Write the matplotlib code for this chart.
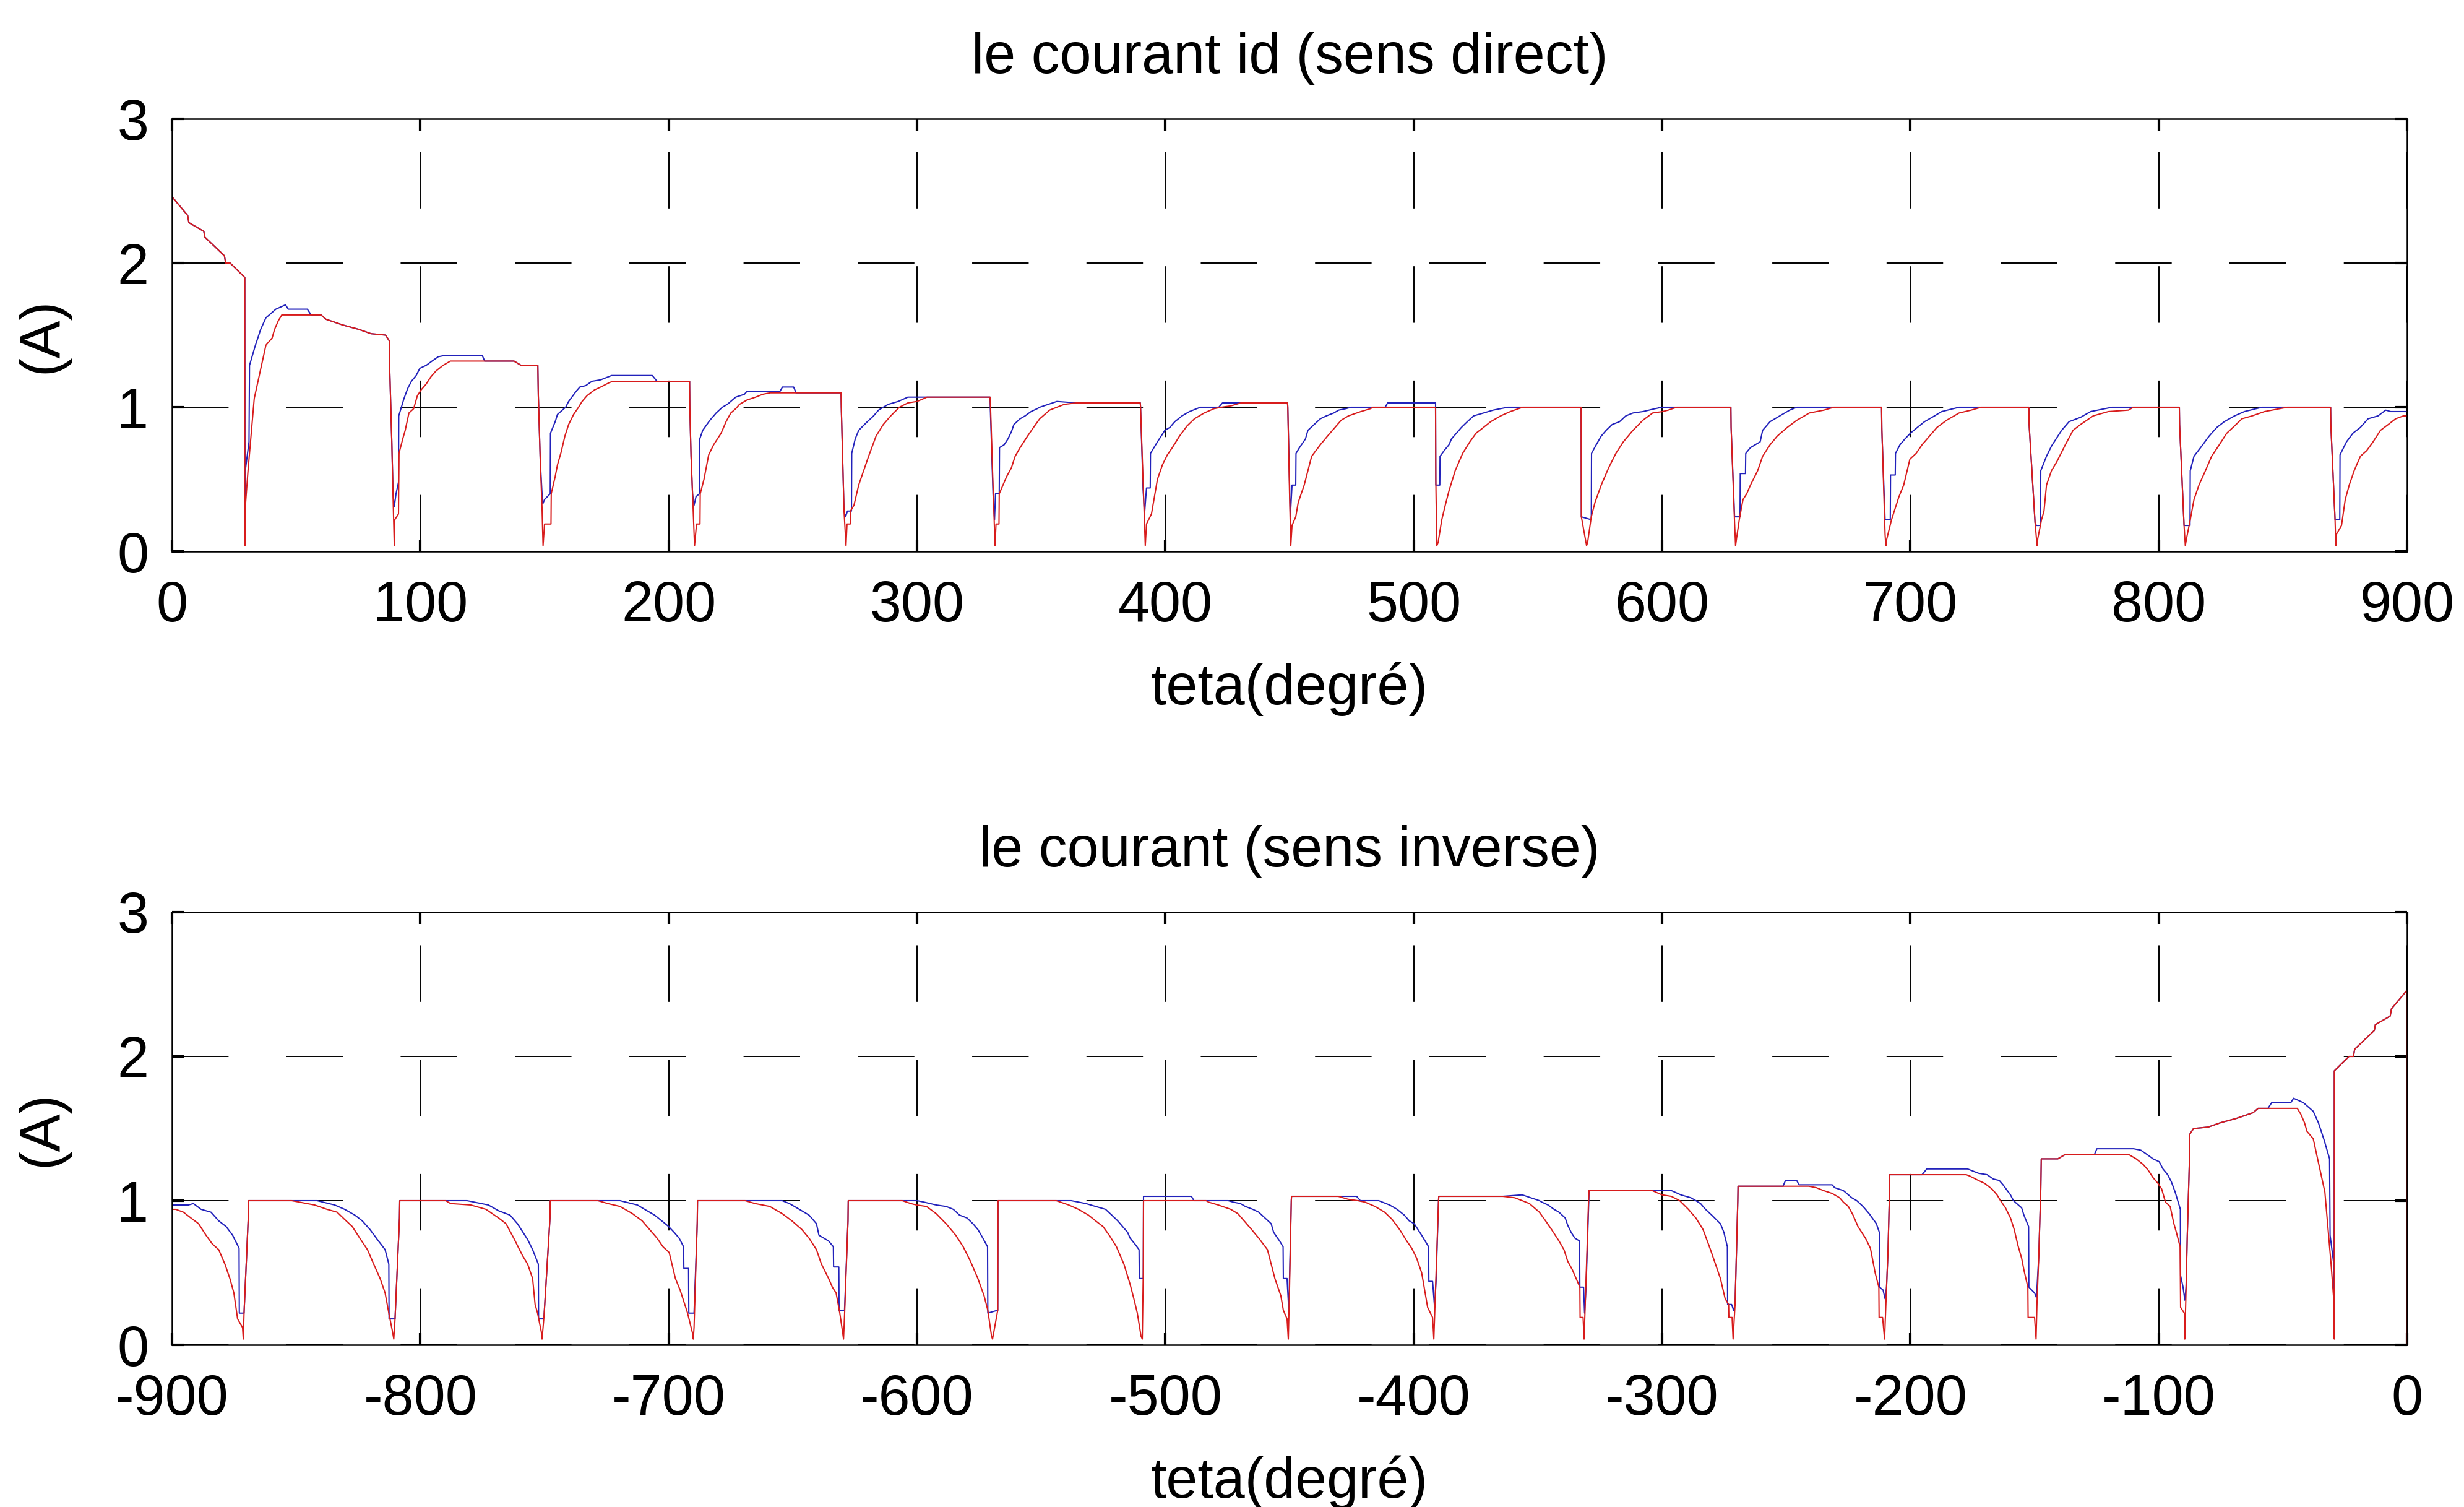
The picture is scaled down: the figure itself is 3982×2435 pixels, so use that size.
import numpy as np
import matplotlib
matplotlib.use("Agg")
import matplotlib.pyplot as plt

plt.rcParams['font.family'] = ['Liberation Sans', 'DejaVu Sans']
plt.rcParams['axes.unicode_minus'] = False

# courant id (sens direct): (teta en degrés, courant en A)
courant_bleu = [
    (0, 0), (0, 2.46), (6.3, 2.33), (6.8, 2.28), (12.8, 2.22), (13.2, 2.18), (21.1, 2.05),
    (21.6, 2.0), (23.4, 2.0), (29.3, 1.90), (29.4, 0.33), (29.5, 0.56), (31.0, 0.76),
    (31.2, 1.29), (33.4, 1.42), (35.7, 1.54), (37.8, 1.62), (41.8, 1.68), (45.7, 1.71),
    (46.8, 1.68), (54.5, 1.68), (56.0, 1.64), (60.0, 1.64), (62.0, 1.61), (68.8, 1.57),
    (75.2, 1.54), (80.1, 1.51), (86.0, 1.50), (87.5, 1.46), (87.7, 1.24), (88.5, 0.76),
    (89.0, 0.40), (89.5, 0.31), (90.2, 0.40), (91.2, 0.48), (91.3, 0.94), (93.4, 1.06),
    (94.9, 1.13), (96.4, 1.18), (98.3, 1.22), (99.8, 1.27), (102.3, 1.29), (104.7, 1.32),
    (107.2, 1.35), (110.1, 1.36), (124.9, 1.36), (125.9, 1.32), (137.7, 1.32), (140.6, 1.29),
    (147.3, 1.29), (147.5, 1.08), (148.3, 0.62), (149.0, 0.40), (149.3, 0.33), (150.0, 0.36),
    (152.3, 0.40), (152.4, 0.82), (154.3, 0.90), (155.2, 0.95), (158.5, 1.0), (159.7, 1.04),
    (162.7, 1.11), (164.2, 1.14), (166.6, 1.15), (169.1, 1.18), (172.6, 1.19), (177.0, 1.22),
    (193.4, 1.22), (195.3, 1.18), (208.4, 1.18), (208.5, 1.0), (209.0, 0.66), (209.6, 0.40),
    (210.2, 0.32), (211.0, 0.38), (212.4, 0.40), (212.5, 0.78), (213.7, 0.84), (216.6, 0.91),
    (219.1, 0.96), (221.6, 1.0), (223.6, 1.02), (227.0, 1.07), (230.5, 1.09), (231.5, 1.11),
    (244.8, 1.11), (245.8, 1.14), (250.3, 1.14), (251.3, 1.10), (269.4, 1.10), (269.5, 1.0),
    (270.6, 0.28), (271.2, 0.24), (272.0, 0.28), (273.6, 0.28), (273.7, 0.68), (275.1, 0.78),
    (276.5, 0.84), (280.0, 0.90), (282.5, 0.94), (284.5, 0.98), (286.4, 1.0), (288.4, 1.02),
    (292.4, 1.04), (296.3, 1.07), (329.4, 1.07), (329.5, 1.0), (330.6, 0.40), (331.2, 0.22),
    (331.6, 0.40), (333.1, 0.40), (333.2, 0.72), (335.1, 0.74), (336.6, 0.78), (338.0, 0.83),
    (339.0, 0.88), (341.5, 0.92), (343.5, 0.94), (345.9, 0.97), (348.4, 0.99), (349.4, 1.0),
    (356.3, 1.04), (364.2, 1.03), (389.9, 1.03), (390.0, 1.0), (391.0, 0.44), (391.6, 0.26),
    (392.4, 0.44), (393.9, 0.44), (394.0, 0.68), (396.8, 0.76), (398.3, 0.80), (399.8, 0.84),
    (401.8, 0.86), (403.8, 0.90), (406.7, 0.94), (409.7, 0.97), (414.1, 1.0), (421.5, 1.0),
    (423.0, 1.03), (449.2, 1.03), (449.3, 1.0), (450.0, 0.46), (450.3, 0.24), (451.0, 0.46),
    (452.5, 0.46), (452.6, 0.68), (454.0, 0.72), (456.4, 0.78), (457.4, 0.84), (459.9, 0.88),
    (462.4, 0.92), (464.8, 0.94), (467.8, 0.96), (469.8, 0.98), (472.7, 0.99), (474.7, 1.0),
    (488.5, 1.0), (489.5, 1.03), (508.8, 1.03), (508.9, 0.46), (510.5, 0.46), (510.6, 0.66),
    (512.3, 0.70), (514.2, 0.74), (515.2, 0.78), (517.2, 0.82), (519.2, 0.86), (521.6, 0.90),
    (524.1, 0.94), (528.1, 0.96), (532.0, 0.98), (537.9, 1.0), (567.4, 1.0), (567.5, 0.24),
    (571.5, 0.22), (571.6, 0.68), (573.5, 0.74), (575.5, 0.80), (577.5, 0.84), (579.9, 0.88),
    (582.9, 0.90), (585.4, 0.94), (588.3, 0.96), (592.3, 0.97), (597.2, 0.99), (600.0, 1.0),
    (627.7, 1.0), (627.8, 0.86), (629.2, 0.24), (631.4, 0.24), (631.5, 0.54), (633.6, 0.54),
    (633.7, 0.68), (635.6, 0.72), (639.5, 0.76), (640.5, 0.84), (643.5, 0.90), (647.4, 0.94),
    (651.4, 0.98), (654.3, 1.0), (688.4, 1.0), (688.5, 0.84), (689.8, 0.22), (691.9, 0.22),
    (692.0, 0.53), (693.9, 0.53), (694.0, 0.68), (695.8, 0.74), (697.8, 0.78), (700.0, 0.82),
    (702.8, 0.86), (705.7, 0.90), (709.7, 0.94), (712.6, 0.97), (719.6, 1.0), (747.7, 1.0),
    (747.8, 0.88), (750.2, 0.20), (750.7, 0.18), (752.4, 0.18), (752.5, 0.56), (754.8, 0.66),
    (756.8, 0.73), (760.9, 0.84), (763.9, 0.90), (768.5, 0.93), (772.6, 0.97), (781.2, 1.0),
    (808.3, 1.0), (808.4, 0.88), (810.2, 0.18), (812.6, 0.18), (812.7, 0.56), (814.2, 0.66),
    (817.3, 0.73), (820.3, 0.80), (823.4, 0.86), (826.4, 0.90), (830.5, 0.94), (834.5, 0.97),
    (841.6, 1.0), (869.2, 1.0), (869.3, 0.88), (871.0, 0.22), (872.9, 0.22), (873.0, 0.67),
    (875.6, 0.76), (878.2, 0.82), (881.2, 0.86), (884.3, 0.92), (888.3, 0.94), (891.4, 0.98),
    (893.4, 0.97), (900.0, 0.97),
]

courant_rouge = [
    (0, 0), (0, 2.46), (6.3, 2.33), (6.8, 2.28), (12.8, 2.22), (13.2, 2.18), (21.1, 2.05),
    (21.6, 2.0), (23.4, 2.0), (29.3, 1.90), (29.3, 0.04), (29.6, 0.33), (30.6, 0.56),
    (31.6, 0.76), (33.1, 1.06), (35.9, 1.28), (37.8, 1.43), (40.3, 1.48), (41.3, 1.54),
    (42.8, 1.60), (44.2, 1.64), (60.0, 1.64), (62.0, 1.61), (68.8, 1.57), (75.2, 1.54),
    (80.1, 1.51), (86.0, 1.50), (87.5, 1.46), (87.7, 1.24), (88.5, 0.76), (89.0, 0.38),
    (89.5, 0.04), (89.7, 0.22), (91.2, 0.26), (91.4, 0.68), (92.9, 0.78), (93.9, 0.84),
    (95.4, 0.96), (97.3, 0.99), (98.8, 1.08), (100.3, 1.12), (102.3, 1.16), (104.2, 1.21),
    (106.2, 1.25), (109.1, 1.29), (112.1, 1.32), (137.7, 1.32), (140.6, 1.29), (147.3, 1.29),
    (147.5, 1.08), (148.3, 0.62), (149.0, 0.30), (149.4, 0.04), (150.0, 0.19), (152.6, 0.19),
    (152.7, 0.40), (154.3, 0.52), (155.2, 0.60), (156.7, 0.69), (158.2, 0.80), (159.7, 0.88),
    (161.7, 0.95), (163.7, 1.0), (165.1, 1.04), (167.1, 1.08), (170.1, 1.12), (172.6, 1.14),
    (176.0, 1.17), (177.5, 1.18), (208.4, 1.18), (208.5, 1.0), (209.0, 0.66), (209.6, 0.40),
    (210.4, 0.04), (211.2, 0.19), (212.6, 0.19), (212.7, 0.40), (214.2, 0.50), (216.1, 0.67),
    (218.1, 0.74), (221.1, 0.82), (223.1, 0.90), (225.0, 0.96), (227.0, 0.99), (228.5, 1.02),
    (231.5, 1.05), (235.0, 1.07), (237.9, 1.09), (240.9, 1.10), (269.4, 1.10), (269.5, 1.0),
    (270.6, 0.28), (271.4, 0.04), (271.8, 0.19), (273.1, 0.19), (273.2, 0.28), (274.6, 0.32),
    (276.5, 0.46), (278.5, 0.56), (280.5, 0.66), (283.5, 0.80), (286.4, 0.88), (289.4, 0.94),
    (292.9, 1.0), (296.3, 1.03), (300.0, 1.04), (304.0, 1.07), (329.4, 1.07), (329.6, 1.0),
    (330.4, 0.56), (331.4, 0.04), (331.8, 0.19), (333.0, 0.19), (333.1, 0.40), (334.6, 0.46),
    (336.1, 0.52), (338.0, 0.58), (339.5, 0.66), (341.5, 0.72), (344.5, 0.80), (346.9, 0.86),
    (349.4, 0.92), (353.4, 0.98), (356.3, 1.0), (359.3, 1.02), (364.2, 1.03), (389.9, 1.03),
    (390.0, 1.0), (391.2, 0.40), (391.9, 0.04), (392.4, 0.19), (394.4, 0.26), (396.8, 0.50),
    (398.8, 0.60), (400.8, 0.67), (402.8, 0.72), (405.7, 0.80), (408.7, 0.87), (411.7, 0.92),
    (415.6, 0.96), (419.6, 0.99), (422.5, 1.0), (426.5, 1.01), (430.4, 1.03), (449.2, 1.03),
    (449.3, 1.0), (450.0, 0.40), (450.5, 0.04), (451.0, 0.18), (452.5, 0.24), (453.5, 0.34),
    (455.9, 0.46), (458.9, 0.66), (462.4, 0.74), (465.3, 0.80), (470.8, 0.91), (473.7, 0.94),
    (478.7, 0.97), (482.6, 0.99), (483.6, 1.0), (508.8, 1.0), (508.9, 0.50), (509.3, 0.04),
    (509.8, 0.06), (511.3, 0.22), (512.7, 0.32), (514.2, 0.42), (516.7, 0.56), (519.7, 0.68),
    (522.6, 0.76), (525.1, 0.82), (528.1, 0.86), (531.0, 0.90), (535.0, 0.94), (538.9, 0.97),
    (543.9, 1.0), (567.4, 1.0), (567.5, 0.24), (569.6, 0.04), (570.0, 0.06), (571.5, 0.24),
    (573.0, 0.34), (575.5, 0.46), (578.5, 0.58), (581.4, 0.68), (584.4, 0.76), (588.3, 0.84),
    (592.3, 0.91), (596.2, 0.96), (600.2, 0.97), (602.5, 0.98), (605.9, 1.0), (627.7, 1.0),
    (627.8, 0.86), (629.2, 0.20), (629.6, 0.04), (630.0, 0.09), (631.1, 0.22), (632.6, 0.36),
    (634.1, 0.40), (635.6, 0.46), (638.5, 0.56), (640.5, 0.66), (643.5, 0.74), (646.4, 0.80),
    (650.4, 0.86), (654.3, 0.91), (659.3, 0.96), (665.2, 0.98), (669.2, 1.0), (688.4, 1.0),
    (688.5, 0.86), (689.8, 0.12), (690.1, 0.04), (690.4, 0.08), (692.4, 0.22), (693.9, 0.30),
    (695.4, 0.38), (697.3, 0.46), (699.8, 0.64), (702.3, 0.68), (704.7, 0.74), (707.7, 0.80),
    (710.7, 0.86), (714.6, 0.91), (719.6, 0.96), (724.5, 0.98), (728.5, 1.0), (747.7, 1.0),
    (747.8, 0.88), (750.2, 0.20), (751.0, 0.04), (751.3, 0.09), (752.8, 0.22), (753.8, 0.28),
    (754.8, 0.46), (756.8, 0.56), (758.9, 0.62), (762.4, 0.74), (765.5, 0.84), (768.5, 0.88),
    (773.6, 0.94), (779.7, 0.97), (787.8, 0.98), (789.8, 1.0), (808.3, 1.0), (808.4, 0.88),
    (810.2, 0.18), (810.7, 0.04), (811.2, 0.09), (812.7, 0.22), (814.2, 0.36), (816.2, 0.46),
    (818.8, 0.56), (821.3, 0.66), (824.4, 0.74), (827.4, 0.82), (830.5, 0.87), (833.5, 0.92),
    (837.6, 0.94), (842.6, 0.97), (851.8, 1.0), (869.2, 1.0), (869.3, 0.88), (871.0, 0.22),
    (871.3, 0.04), (871.6, 0.12), (873.6, 0.18), (875.1, 0.36), (876.7, 0.46), (878.7, 0.56),
    (881.2, 0.66), (883.8, 0.70), (886.3, 0.76), (889.3, 0.84), (892.4, 0.88), (895.4, 0.92),
    (898.5, 0.94), (900.0, 0.94),
]

ticks_y = [0, 1, 2, 3]
ticks_direct = [0, 100, 200, 300, 400, 500, 600, 700, 800, 900]
ticks_inverse = [-900, -800, -700, -600, -500, -400, -300, -200, -100, 0]

tb, ib = np.array(courant_bleu).T
tr, ir = np.array(courant_rouge).T

W, H = 3982, 2435
fig = plt.figure(figsize=(W / 100, H / 100), dpi=100)
fs = 66

def habiller(ax, xlim, xticks, titre):
    ax.set_xlim(*xlim)
    ax.set_ylim(0, 3)
    ax.set_xticks(xticks)
    ax.set_yticks(ticks_y)
    ax.grid(True, color='k', lw=1.4, linestyle=(0, (47, 48)))
    ax.tick_params(direction='in', length=14, width=3, top=True, right=True,
                   labelsize=fs, color='k')
    ax.tick_params(axis='x', pad=33)
    ax.tick_params(axis='y', pad=27)
    for s in ax.spines.values():
        s.set_linewidth(1.8)
    ax.set_title(titre, fontsize=fs, y=1.128, va='center')
    ax.set_xlabel('teta(degré)', fontsize=fs, va='center')
    ax.xaxis.set_label_coords(0.5, -0.318)
    ax.set_ylabel('(A)', fontsize=fs, va='center')
    ax.yaxis.set_label_coords(-0.058, 0.5)

x0, x1 = 278 / W, 3890 / W
ax1 = fig.add_axes([x0, 1 - 891 / H, x1 - x0, 699 / H])
ax1.plot(tb, ib, color='#2222bb', lw=1.5)
ax1.plot(tr, ir, color='#d81c1c', lw=1.5)
habiller(ax1, (0, 900), ticks_direct, 'le courant id (sens direct)')

ax2 = fig.add_axes([x0, 1 - 2173 / H, x1 - x0, 699 / H])
ax2.plot(-tb, ib, color='#2222bb', lw=1.5)
ax2.plot(-tr, ir, color='#d81c1c', lw=1.5)
habiller(ax2, (-900, 0), ticks_inverse, 'le courant (sens inverse)')

fig.savefig('out.png', dpi=100, facecolor='white')
